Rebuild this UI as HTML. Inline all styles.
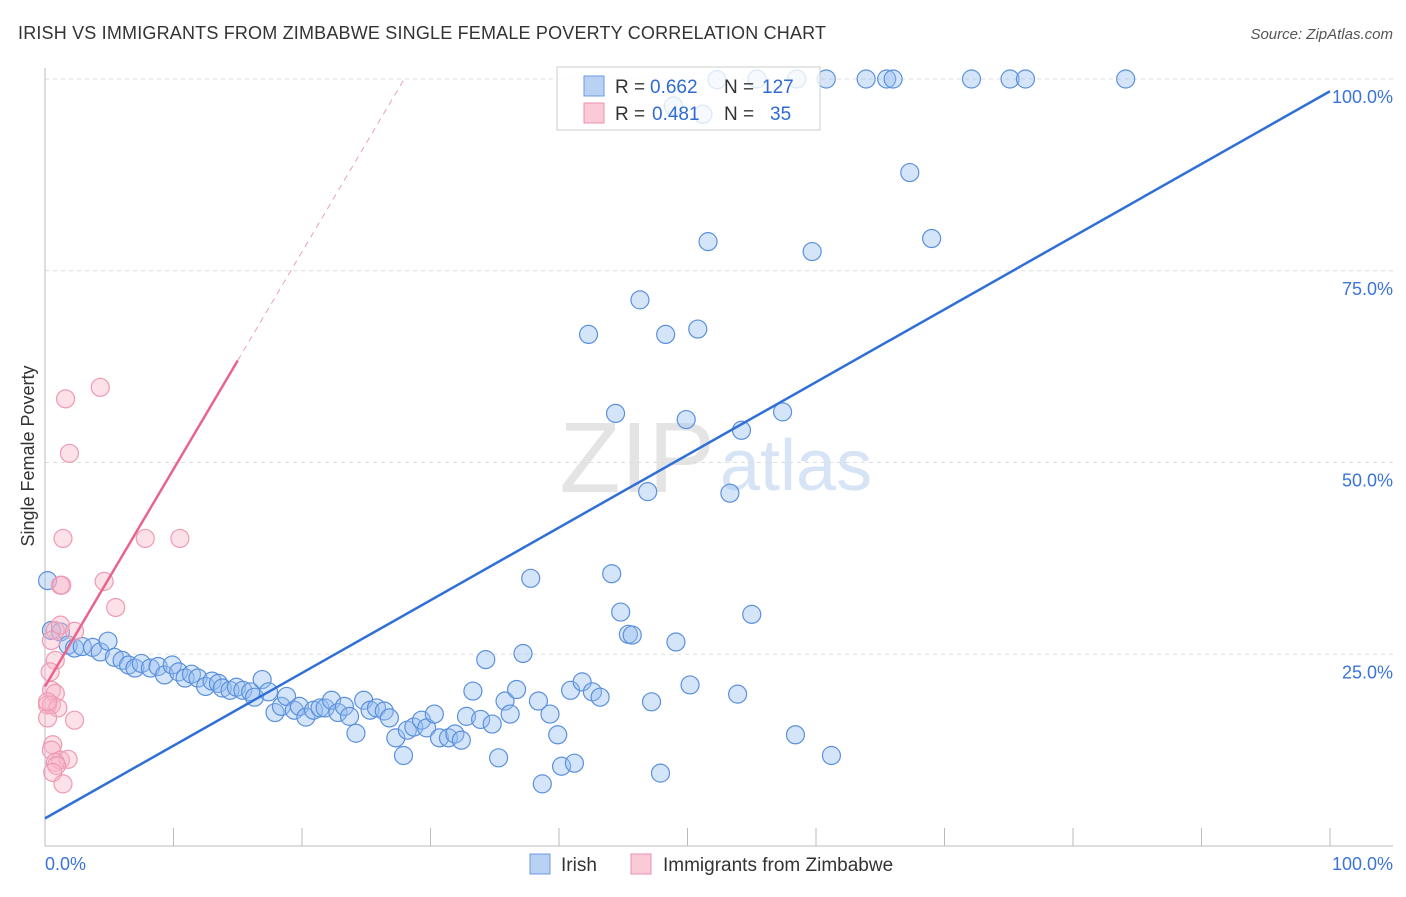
<!DOCTYPE html>
<html><head><meta charset="utf-8"><style>
body{margin:0;background:#fff;font-family:"Liberation Sans",sans-serif}
svg text{font-family:"Liberation Sans",sans-serif}
</style></head><body>
<svg id="chart" width="1406" height="892">
<text x="18" y="39" font-size="18" fill="#333" textLength="808">IRISH VS IMMIGRANTS FROM ZIMBABWE SINGLE FEMALE POVERTY CORRELATION CHART</text>
<text x="1393" y="39" font-size="15" fill="#555" text-anchor="end" font-style="italic">Source: ZipAtlas.com</text>
<text x="715" y="492" font-size="100" fill="#e4e4e4" text-anchor="end" font-family="Liberation Serif">ZIP</text>
<text x="720" y="490" font-size="72" fill="#d6e4f5">atlas</text>
<g id="grid"></g>
<g id="axes"></g>
<g id="marks"></g>
<g>
<rect x="557" y="67" width="263" height="63" fill="rgba(255,255,255,0.78)" stroke="#ccc"/>
<rect x="584" y="76" width="20" height="20" fill="#b9d2f3" stroke="#6a9be0"/>
<rect x="584" y="103" width="20" height="20" fill="#fbcad7" stroke="#ec8fa9"/>
<text x="615" y="93" font-size="19" fill="#333">R =</text>
<text x="650" y="93" font-size="19" fill="#2f6bd4">0.662</text>
<text x="724" y="93" font-size="19" fill="#333">N =</text>
<text x="762" y="93" font-size="19" fill="#2f6bd4">127</text>
<text x="615" y="120" font-size="19" fill="#333">R =</text>
<text x="652" y="120" font-size="19" fill="#2f6bd4">0.481</text>
<text x="724" y="120" font-size="19" fill="#333">N =</text>
<text x="770" y="120" font-size="19" fill="#2f6bd4">35</text>
</g>
<text transform="translate(34,456) rotate(-90)" font-size="18" fill="#333" text-anchor="middle">Single Female Poverty</text>
<g>
<rect x="530" y="854" width="20" height="20" fill="#b9d2f3" stroke="#6a9be0"/>
<text x="561" y="871" font-size="19" fill="#333">Irish</text>
<rect x="631" y="854" width="20" height="20" fill="#fbcad7" stroke="#ec8fa9"/>
<text x="663" y="871" font-size="19" fill="#333">Immigrants from Zimbabwe</text>
</g>
</svg>
<script>
const yTicks=[25,50,75,100];
const yTickLabels=["25.0%","50.0%","75.0%","100.0%"];
const xTicks=[0,10,20,30,40,50,60,70,80,90,100];
const irishX=[0.2,0.5,1.2,1.8,2.3,2.9,3.7,4.3,4.9,5.4,6.0,6.5,7.0,7.5,8.2,8.8,9.3,9.9,10.4,10.9,11.4,11.9,12.5,13.0,13.5,13.8,14.4,14.9,15.4,16.0,16.3,16.9,17.4,17.9,18.4,18.8,19.4,19.8,20.3,20.9,21.4,21.8,22.3,22.8,23.3,23.7,24.2,24.8,25.3,25.8,26.4,26.8,27.3,27.9,28.2,28.7,29.3,29.7,30.3,30.7,31.4,31.9,32.4,32.8,33.3,33.9,34.3,34.8,35.3,35.8,36.2,36.7,37.2,37.8,38.4,38.7,39.3,39.9,40.2,40.9,41.2,41.8,42.3,42.6,43.2,44.1,44.4,44.8,45.4,45.7,46.3,46.9,47.2,47.9,48.3,49.1,49.9,50.2,50.8,51.6,52.3,53.3,53.9,54.2,55.0,55.4,57.4,58.4,58.5,59.7,60.8,61.2,63.9,65.5,66.0,67.3,69.0,72.1,75.1,76.3,84.1,51.2,48.9];
const irishY=[34.6,28.1,27.9,26.2,25.8,26.0,25.9,25.3,26.7,24.6,24.2,23.6,23.2,23.8,23.2,23.4,22.3,23.6,22.7,21.9,22.4,21.9,20.8,21.5,21.2,20.6,20.3,20.7,20.3,20.1,19.4,21.7,20.1,17.4,18.2,19.5,17.7,18.2,16.8,17.7,18.0,18.0,19.0,17.4,18.2,16.9,14.7,19.0,17.7,18.0,17.6,16.7,14.1,11.8,15.1,15.5,16.4,15.4,17.2,14.1,14.1,14.6,13.8,16.9,20.2,16.5,24.3,15.9,11.5,18.9,17.2,20.4,25.1,34.9,18.9,8.1,17.2,14.5,10.4,20.3,10.8,21.4,66.7,20.1,19.4,35.5,56.4,30.5,27.6,27.5,71.2,46.2,18.8,9.5,66.7,26.6,55.6,21.0,67.4,78.8,99.9,46.0,19.8,54.2,30.2,100,56.6,14.5,100,77.5,100,11.8,100,100,100,87.8,79.2,100,100,100,100,95.4,96.5];
const zimX=[1.2,1.3,1.6,4.3,1.9,1.4,7.8,10.5,4.6,5.5,0.8,1.2,2.3,0.5,0.8,0.4,0.5,0.8,0.2,0.5,1.0,0.2,2.3,0.6,0.5,1.2,1.8,0.8,0.9,0.6,1.4,0.2];
const zimY=[34.0,34.0,58.3,59.8,51.2,40.1,40.1,40.1,34.5,31.1,28.1,28.8,28.0,26.8,24.2,22.7,20.3,19.9,18.4,18.4,18.0,16.7,16.4,13.2,12.5,11.2,11.3,10.9,10.5,9.6,8.1,18.8];
const irishLine=[3.6,98.4];
const zimLine=[20.8,63.3];
const zimSolidEnd=15;
const NS='http://www.w3.org/2000/svg';
const X0=45,X1=1330,Y0=846,Y100=79;
const sx=v=>X0+(X1-X0)*v/100;
const sy=v=>Y0-(Y0-Y100)*v/100;
function mk(tag,attrs,parent){const e=document.createElementNS(NS,tag);for(const k in attrs)e.setAttribute(k,attrs[k]);parent.appendChild(e);return e;}
const grid=document.getElementById('grid'),axes=document.getElementById('axes'),marks=document.getElementById('marks');
yTicks.forEach((t,i)=>{
 const l=mk('line',{x1:45,x2:1393,y1:sy(t),y2:sy(t),stroke:'#ddd','stroke-dasharray':'4,4'},grid);
 
 
 const tx=mk('text',{x:1393,y:sy(t)+24,'font-size':18,fill:'#3b74d8','text-anchor':'end'},grid);
 tx.textContent=yTickLabels[i];
 
 
});
const ya=mk('line',{x1:45,x2:45,y1:68,y2:846,stroke:'#bbb'},axes);


const xa=mk('line',{x1:45,x2:1393,y1:846,y2:846,stroke:'#bbb'},axes);


xTicks.forEach(t=>{
 const l=mk('line',{x1:sx(t),x2:sx(t),y1:828,y2:846,stroke:'#bbb'},axes);
 
 
});
const xl0=mk('text',{x:45,y:870,'font-size':18,fill:'#3b74d8'},axes);xl0.textContent='0.0%';


const xl1=mk('text',{x:1393,y:870,'font-size':18,fill:'#3b74d8','text-anchor':'end'},axes);xl1.textContent='100.0%';


irishX.forEach((x,i)=>{
 const c=mk('circle',{cx:sx(x),cy:sy(irishY[i]),r:9,fill:'rgba(150,190,240,0.4)',stroke:'#5b90dc','stroke-width':1.2},marks);
 
 
});
zimX.forEach((x,i)=>{
 const c=mk('circle',{cx:sx(x),cy:sy(zimY[i]),r:9,fill:'rgba(248,180,200,0.4)',stroke:'#ee9ab2','stroke-width':1.2},marks);
 
 
});
const bl=mk('line',{x1:sx(0),y1:sy(irishLine[0]),x2:sx(100),y2:sy(irishLine[1]),stroke:'#2f6fd6','stroke-width':2.5},marks);


const slope=(zimLine[1]-zimLine[0])/zimSolidEnd;
const pl=mk('line',{x1:sx(0),y1:sy(zimLine[0]),x2:sx(zimSolidEnd),y2:sy(zimLine[1]),stroke:'#e8648e','stroke-width':2.5},marks);


const xEnd=(100-zimLine[0])/slope;
const pd=mk('line',{x1:sx(zimSolidEnd),y1:sy(zimLine[1]),x2:sx(xEnd),y2:sy(100),stroke:'#eaa0b8','stroke-width':1,'stroke-dasharray':'6,5'},marks);


</script>
</body></html>
